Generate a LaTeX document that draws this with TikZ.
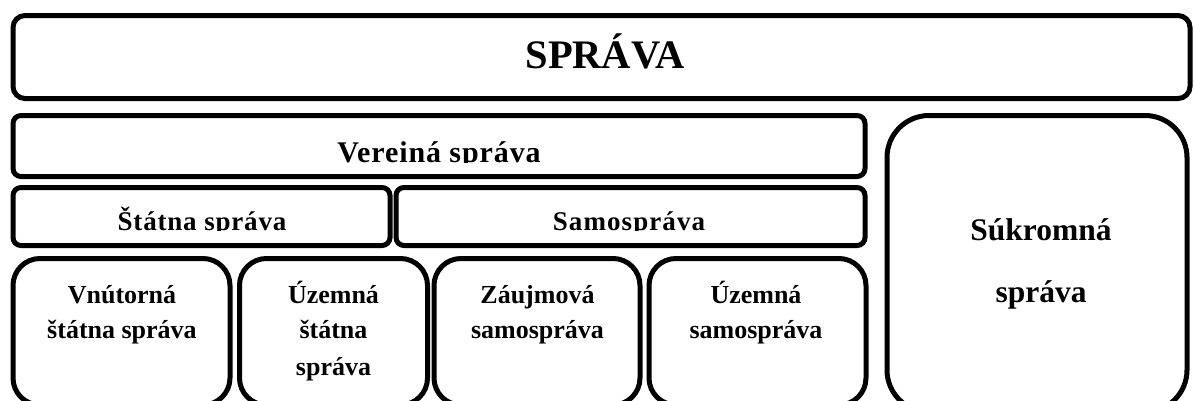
\documentclass[tikz,border=0pt]{standalone}
\usepackage{fontspec}
\setmainfont{Liberation Serif}
\tikzset{
  frame/.style={line width=5pt, rounded corners=#1},
  lbl/.style={anchor=base, inner sep=0pt},
}
\newcommand{\fsz}[2]{\bfseries\fontsize{#1}{#1}\selectfont\addfontfeature{LetterSpace=#2}}
\begin{document}
\begin{tikzpicture}[x=1pt,y=-1pt]
\useasboundingbox (0,0) rectangle (1194,400);
\fill[white] (0,0) rectangle (1194,400);
\clip (0,0) rectangle (1194,400);
% boxes
\draw[frame=12] (13,15.5) rectangle (1190,98.5);
\draw[frame=8] (13,115.5) rectangle (865,176.5);
\draw[frame=8] (13,187.5) rectangle (390,245.5);
\draw[frame=8] (396,187.5) rectangle (865,245.5);
\draw[frame=27] (13,258.5) rectangle (230,405);
\draw[frame=27] (239.5,258.5) rectangle (427.5,405);
\draw[frame=27] (434,258.5) rectangle (640,405);
\draw[frame=27] (649,258.5) rectangle (866,405);
\draw[frame=42] (887,115.5) rectangle (1187,412);
% texts
\node[lbl, font=\fsz{40.5}{0}] (t0) at (605,68.5) {SPRÁVA};
\begin{scope}
\clip (0,0) rectangle (1194,162.5);
\node[lbl, font=\fsz{30}{3}] (t1) at (439,162) {Vereiná správa};
\end{scope}
\begin{scope}
\clip (0,0) rectangle (1194,230.5);
\node[lbl, font=\fsz{27}{3}] (t2) at (202,230) {Štátna správa};
\node[lbl, font=\fsz{27}{4}] (t3) at (629,230) {Samospráva};
\end{scope}
\node[lbl, font=\fsz{26}{0}] (a1) at (122,303) {Vnútorná};
\node[lbl, font=\fsz{26}{0}] (a2) at (122,338) {štátna správa};
\node[lbl, font=\fsz{26}{0}] (b1) at (333.5,303) {Územná};
\node[lbl, font=\fsz{26}{0}] (b2) at (333.5,338) {štátna};
\node[lbl, font=\fsz{26}{0}] (b3) at (333.5,375) {správa};
\node[lbl, font=\fsz{26}{0}] (c1) at (537.5,303) {Záujmová};
\node[lbl, font=\fsz{26}{0}] (c2) at (537.5,338) {samospráva};
\node[lbl, font=\fsz{26}{0}] (d1) at (756,303) {Územná};
\node[lbl, font=\fsz{26}{0}] (d2) at (756,338) {samospráva};
\node[lbl, font=\fsz{31.5}{0}] (e1) at (1041,240) {Súkromná};
\node[lbl, font=\fsz{31.5}{0}] (e2) at (1041,302) {správa};
\end{tikzpicture}
\end{document}
